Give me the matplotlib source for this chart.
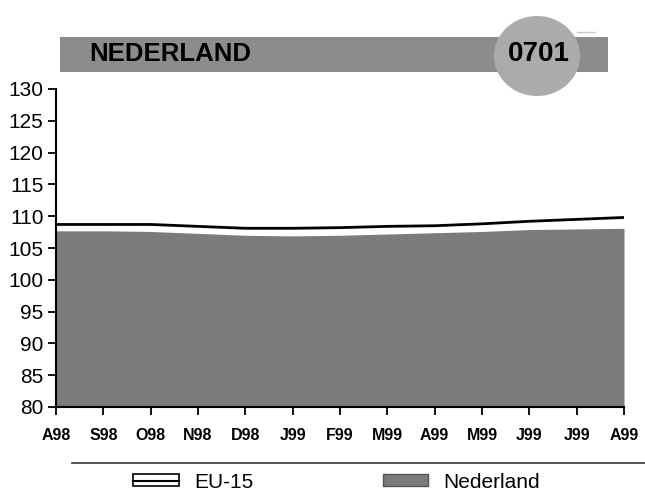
import numpy as np
import matplotlib
matplotlib.use('Agg')
import matplotlib.pyplot as plt
from matplotlib.patches import Rectangle, Ellipse, Patch
from matplotlib.lines import Line2D

months=['A98','S98','O98','N98','D98','J99','F99','M99','A99','M99','J99','J99','A99']
eu15=[108.7,108.7,108.7,108.4,108.1,108.1,108.2,108.4,108.5,108.8,109.2,109.5,109.8]
nederland=[107.7,107.7,107.6,107.3,107.0,106.9,107.0,107.2,107.4,107.6,107.9,108.0,108.1]
title='NEDERLAND'
code='0701'

plt.rcParams['font.family']=['Liberation Sans','DejaVu Sans']

W,H=645.,493.
fig=plt.figure(figsize=(6.45,4.93),dpi=100)
ax=fig.add_axes([56/W,1-407/H,568/W,318/H])

x=np.arange(len(months))
ax.fill_between(x,80,nederland,color='#7b7b7b',lw=0)
ax.plot(x,eu15,color='black',lw=2)

ax.set_xlim(0,len(months)-1)
ax.set_ylim(80,130)
ax.set_yticks(range(80,131,5))
ax.set_xticks(x)
ax.set_xticklabels(months,fontweight='bold',fontsize=11.5)
ax.tick_params(axis='y',labelsize=15,length=6,width=1.3,direction='out',pad=3)
ax.tick_params(axis='x',length=6,width=1.3,direction='out',pad=9)
for s in ['top','right']:
    ax.spines[s].set_visible(False)
for s in ['left','bottom']:
    ax.spines[s].set_linewidth(1.5)

# header band
fig.patches.append(Rectangle((60/W,1-72/H),548/W,35/H,transform=fig.transFigure,
                             facecolor='#8c8c8c',edgecolor='none'))
fig.patches.append(Ellipse((537/W,1-56/H),86/W,80/H,transform=fig.transFigure,
                           facecolor='#ababab',edgecolor='none'))
fig.lines.append(Line2D([577/W,595/W],[1-32/H]*2,transform=fig.transFigure,color='#c8c8c8',lw=1))
fig.text(89/W,1-54/H,title,fontsize=18.5,fontweight='bold',va='center',ha='left')
fig.text(539/W,1-54/H,code,fontsize=20,fontweight='bold',va='center',ha='center')

# separator and legend
fig.lines.append(Line2D([72/W,1.0],[1-463/H]*2,transform=fig.transFigure,color='#333333',lw=1.2))
h_eu=(Patch(facecolor='white',edgecolor='black',lw=1.2),Line2D([],[],color='black',lw=1.5))
h_nl=Patch(facecolor='#7b7b7b',edgecolor='#555555',lw=1)
fig.legend([h_eu,h_nl],['EU-15','Nederland'],loc='center',bbox_to_anchor=(0.522,1-482/H),
           ncol=2,frameon=False,fontsize=15,columnspacing=6.2,handlelength=2.2,handleheight=0.5,
           handletextpad=0.72,borderpad=0)

plt.savefig('out.png',dpi=100)
